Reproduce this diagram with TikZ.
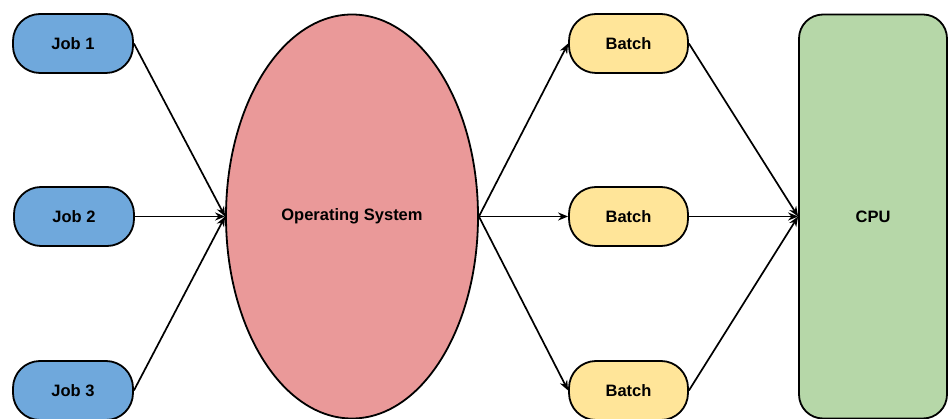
\documentclass[tikz,border=0pt]{standalone}
\usepackage{fontspec}
\setmainfont{Liberation Sans}
\usetikzlibrary{shapes.geometric,arrows.meta}
\definecolor{jobblue}{HTML}{6FA8DC}
\definecolor{osred}{HTML}{EA9999}
\definecolor{batchyellow}{HTML}{FFE599}
\definecolor{cpugreen}{HTML}{B6D7A8}
\tikzset{
  base/.style={draw=black, line width=1.8pt, font=\bfseries\fontsize{16.5}{19}\selectfont, inner sep=0pt},
  jobbox/.style={base, rectangle, rounded corners=27pt, fill=jobblue, minimum width=120pt, minimum height=59pt},
  batchbox/.style={base, rectangle, rounded corners=27pt, fill=batchyellow, minimum width=119pt, minimum height=59pt},
  osnode/.style={base, ellipse, fill=osred, minimum width=252pt, minimum height=404pt},
  cpunode/.style={base, rectangle, rounded corners=24pt, fill=cpugreen, minimum width=148pt, minimum height=404pt},
  conn/.style={line width=1.7pt, -{Stealth[length=10pt,width=8pt]}}
}
\begin{document}
\begin{tikzpicture}[x=1pt,y=-1pt]
\useasboundingbox (0,0) rectangle (949,419);
\node[jobbox] (j1) at (73,43.5) {Job 1};
\node[jobbox] (j2) at (74,216.5) {Job 2};
\node[jobbox] (j3) at (73,390.5) {Job 3};
\node[osnode] (os) at (352,216.5) {Operating System};
\node[batchbox] (b1) at (628.5,43.5) {Batch};
\node[batchbox] (b2) at (628.5,216.5) {Batch};
\node[batchbox] (b3) at (628.5,390.5) {Batch};
\node[cpunode] (cpu) at (873,216.5) {CPU};
\draw[conn] (j1.east) -- (os.west);
\draw[conn] (j2.east) -- (os.west);
\draw[conn] (j3.east) -- (os.west);
\draw[conn] (os.east) -- (b1.west);
\draw[conn] (os.east) -- (b2.west);
\draw[conn] (os.east) -- (b3.west);
\draw[conn] (b1.east) -- (cpu.west);
\draw[conn] (b2.east) -- (cpu.west);
\draw[conn] (b3.east) -- (cpu.west);
\end{tikzpicture}
\end{document}
